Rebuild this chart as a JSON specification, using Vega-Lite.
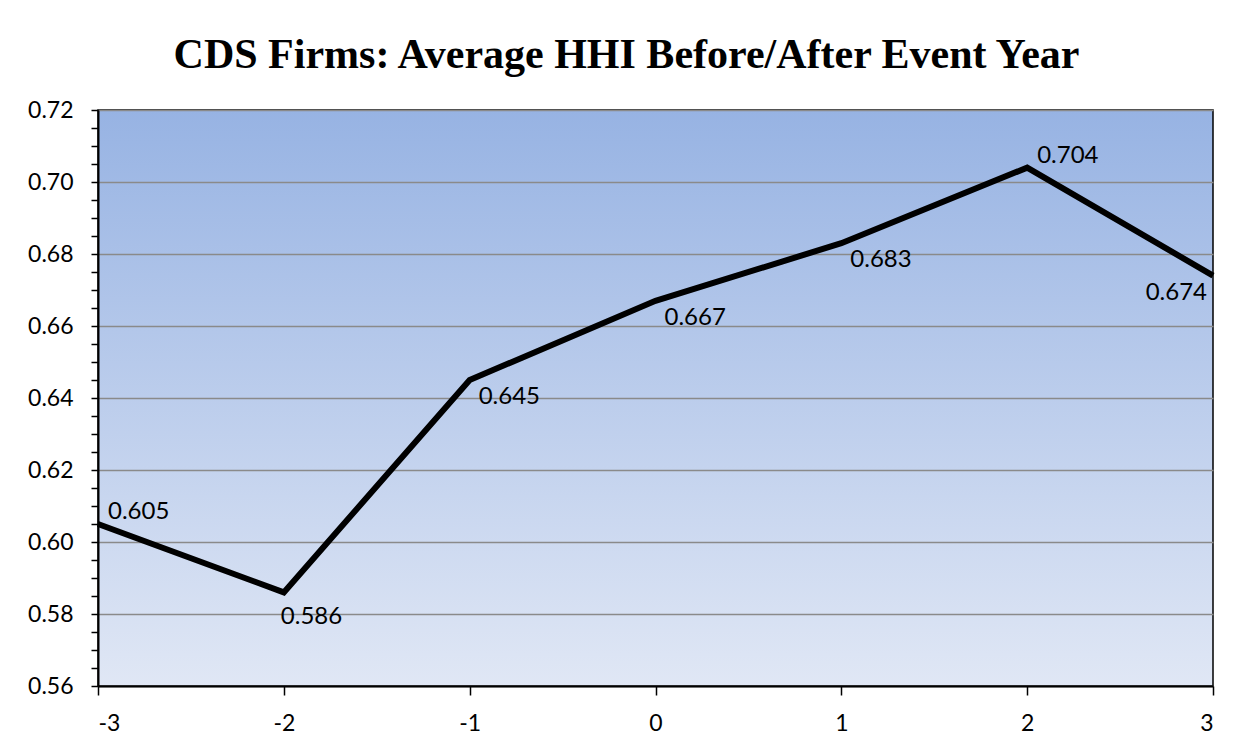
{
  "$schema": "https://vega.github.io/schema/vega-lite/v6.json",
  "autosize": "none",
  "padding": {"left": 98, "top": 110, "right": 33, "bottom": 64},
  "width": 1115,
  "height": 576,
  "background": "white",
  "title": {
    "text": "CDS Firms: Average HHI Before/After Event Year",
    "font": "Liberation Serif",
    "fontSize": 42,
    "fontWeight": "bold",
    "color": "#000000",
    "anchor": "middle",
    "frame": "group",
    "baseline": "alphabetic",
    "offset": -11,
    "dx": -29
  },
  "config": {
    "view": {
      "stroke": "#000000",
      "strokeWidth": 1.5,
      "fill": {
        "gradient": "linear",
        "x1": 0, "y1": 0, "x2": 0, "y2": 1,
        "stops": [
          {"offset": 0, "color": "#97b3e3"},
          {"offset": 1, "color": "#e0e7f5"}
        ]
      }
    },
    "axis": {
      "labelFont": "Lato",
      "labelFontSize": 23,
      "labelColor": "#000000",
      "domainColor": "#000000",
      "domainWidth": 2,
      "tickColor": "#000000",
      "tickWidth": 1.5,
      "title": null
    }
  },
  "data": {
    "values": [
      {"year": -3, "hhi": 0.605},
      {"year": -2, "hhi": 0.586},
      {"year": -1, "hhi": 0.645},
      {"year": 0, "hhi": 0.667},
      {"year": 1, "hhi": 0.683},
      {"year": 2, "hhi": 0.704},
      {"year": 3, "hhi": 0.674}
    ]
  },
  "encoding": {
    "x": {
      "field": "year",
      "type": "quantitative",
      "scale": {"domain": [-3, 3], "nice": false, "zero": false},
      "axis": {
        "values": [-3, -2, -1, 0, 1, 2, 3],
        "labelExpr": "datum.value < 0 ? '-' + abs(datum.value) : '' + datum.value",
        "grid": false,
        "tickSize": 9,
        "labelPadding": 17
      }
    },
    "y": {
      "field": "hhi",
      "type": "quantitative",
      "scale": {"domain": [0.56, 0.72], "nice": false, "zero": false},
      "axis": {
        "values": [0.56, 0.565, 0.57, 0.575, 0.58, 0.585, 0.59, 0.595, 0.6, 0.605, 0.61, 0.615, 0.62, 0.625, 0.63, 0.635, 0.64, 0.645, 0.65, 0.655, 0.66, 0.665, 0.67, 0.675, 0.68, 0.685, 0.69, 0.695, 0.7, 0.705, 0.71, 0.715, 0.72],
        "labelExpr": "abs(datum.value * 50 - round(datum.value * 50)) < 0.001 ? format(datum.value, '.2f') : ''",
        "tickSize": 7,
        "labelPadding": 18,
        "grid": true,
        "gridColor": "#8a8a8a",
        "gridWidth": 1.5,
        "gridOpacity": {
          "condition": {"test": "abs(datum.value * 50 - round(datum.value * 50)) < 0.001", "value": 1},
          "value": 0
        }
      }
    }
  },
  "layer": [
    {
      "mark": {"type": "line", "color": "#000000", "strokeWidth": 6, "strokeJoin": "miter", "clip": false}
    },
    {
      "transform": [{"filter": "datum.year == -3 || datum.year == 2"}],
      "mark": {"type": "text", "font": "Lato", "fontSize": 24, "color": "#000000", "align": "left", "baseline": "middle", "dx": 10, "dy": -12},
      "encoding": {"text": {"field": "hhi", "type": "quantitative", "format": ".3f"}}
    },
    {
      "transform": [{"filter": "datum.year == -1 || datum.year == 0 || datum.year == 1"}],
      "mark": {"type": "text", "font": "Lato", "fontSize": 24, "color": "#000000", "align": "left", "baseline": "middle", "dx": 9, "dy": 17},
      "encoding": {"text": {"field": "hhi", "type": "quantitative", "format": ".3f"}}
    },
    {
      "transform": [{"filter": "datum.year == -2"}],
      "mark": {"type": "text", "font": "Lato", "fontSize": 24, "color": "#000000", "align": "left", "baseline": "middle", "dx": -3, "dy": 25},
      "encoding": {"text": {"field": "hhi", "type": "quantitative", "format": ".3f"}}
    },
    {
      "transform": [{"filter": "datum.year == 3"}],
      "mark": {"type": "text", "font": "Lato", "fontSize": 24, "color": "#000000", "align": "right", "baseline": "middle", "dx": -6, "dy": 17},
      "encoding": {"text": {"field": "hhi", "type": "quantitative", "format": ".3f"}}
    }
  ]
}
